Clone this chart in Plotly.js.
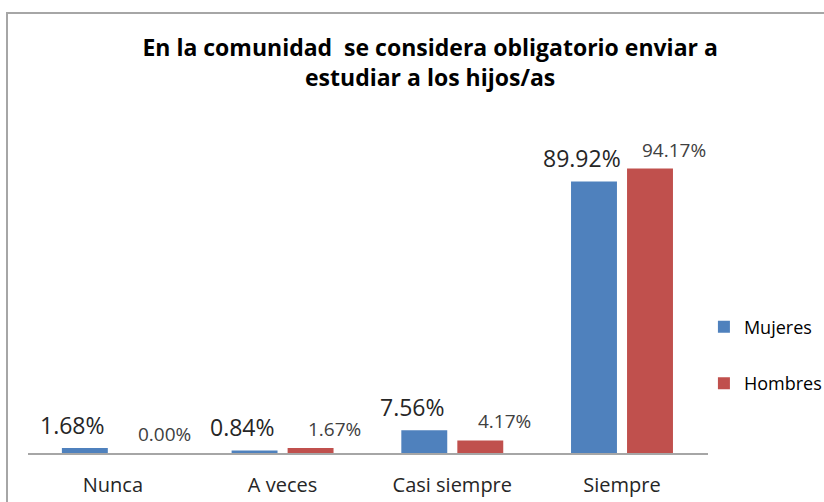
<!DOCTYPE html>
<html>
<head>
<meta charset="utf-8">
<script src="https://cdn.plot.ly/plotly-3.0.1.min.js"></script>
<style>
html,body{margin:0;padding:0;background:#fff;}
#wrap{position:relative;width:824px;height:502px;overflow:hidden;}
#chart{width:824px;height:502px;}
#frame{position:absolute;left:6px;top:12px;width:900px;height:600px;border:2px solid #a6a6a6;pointer-events:none;box-sizing:border-box;}
</style>
</head>
<body>
<div id="wrap">
<div id="chart"></div>
<div id="frame"></div>
</div>
<script>
const categories = ["Nunca", "A veces", "Casi siempre", "Siempre"];
const mujeres = [1.68, 0.84, 7.56, 89.92];
const hombres = [0.00, 1.67, 4.17, 94.17];
const seriesNames = ["Mujeres", "Hombres"];
const titleText = "En la comunidad  se considera obligatorio enviar a<br>estudiar a los hijos/as";

const fmt = v => v.toFixed(2) + "%";

const traces = [
  {
    type: "bar", name: seriesNames[0], x: categories, y: mujeres,
    marker: {color: "#4F81BD"}, legendgroup: "m"
  },
  {
    type: "bar", name: seriesNames[1], x: categories, y: hombres,
    marker: {color: "#C0504D"}, legendgroup: "h"
  }
];

// value labels placed over each bar, offset like the original
const BAR_OFF = 28; // px from category centre to bar centre
const labelAnns = [];
categories.forEach((c, i) => {
  labelAnns.push({
    x: c, y: mujeres[i], xref: "x", yref: "y",
    text: fmt(mujeres[i]), showarrow: false,
    xanchor: "center", yanchor: "bottom",
    xshift: -BAR_OFF - 12, yshift: 5,
    font: {family: "Open Sans, sans-serif", size: 23, color: "#262626"}
  });
  labelAnns.push({
    x: c, y: hombres[i], xref: "x", yref: "y",
    text: fmt(hombres[i]), showarrow: false,
    xanchor: "center", yanchor: "bottom",
    xshift: BAR_OFF + 24, yshift: 4,
    font: {family: "Open Sans, sans-serif", size: 19, color: "#404040"}
  });
});

const layout = {
  width: 824, height: 502,
  margin: {l: 28, r: 116, t: 151, b: 49, pad: 0, autoexpand: false},
  paper_bgcolor: "#ffffff", plot_bgcolor: "#ffffff",
  title: {
    text: titleText,
    font: {family: "Open Sans, sans-serif", size: 23, color: "#000000", weight: "bold"},
    x: 0.522, xref: "container", xanchor: "center",
    y: 1 - 56/502, yref: "container", yanchor: "middle"
  },
  barmode: "group", bargap: 0.34, bargroupgap: 0.18,
  xaxis: {
    showline: true, linecolor: "#a6a6a6", linewidth: 1.5,
    ticks: "", showgrid: false, ticklabelstandoff: 13,
    tickfont: {family: "Open Sans, sans-serif", size: 20, color: "#262626"}
  },
  yaxis: {range: [0, 100], visible: false, showgrid: false, zeroline: false},
  showlegend: true,
  legend: {
    x: 0.994, xanchor: "left", y: 0.478, yanchor: "top",
    font: {family: "Open Sans, sans-serif", size: 18, color: "#000000"},
    traceorder: "grouped", tracegroupgap: 30,
    bgcolor: "rgba(0,0,0,0)", itemwidth: 30
  },
  annotations: labelAnns
};

Plotly.newPlot("chart", traces, layout, {displayModeBar: false, staticPlot: true});
</script>
</body>
</html>
